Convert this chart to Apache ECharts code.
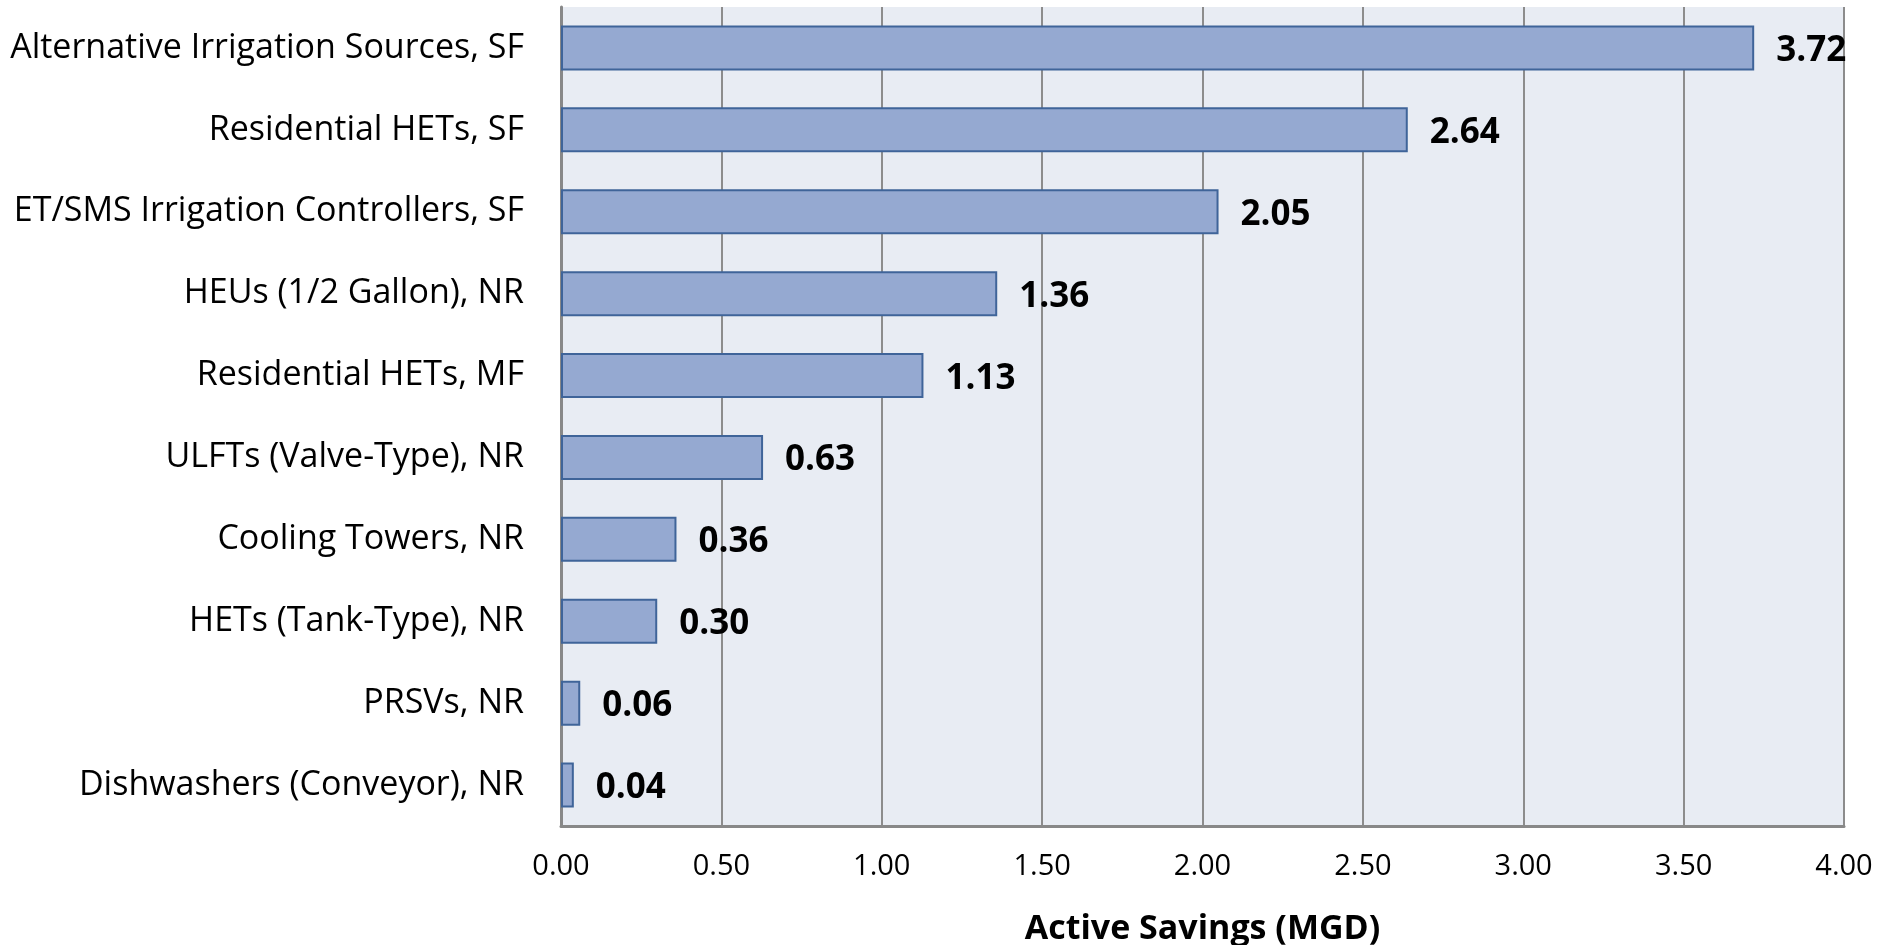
<!DOCTYPE html>
<html>
<head>
<meta charset="utf-8">
<script src="https://cdn.jsdelivr.net/npm/echarts@6/dist/echarts.min.js"></script>
<style>
  html, body { margin: 0; padding: 0; background: #fff; }
  #chart { width: 1881px; height: 945px; }
</style>
</head>
<body>
<div id="chart"></div>
<script>
// categories from top to bottom
const categories = [
  'Alternative Irrigation Sources, SF',
  'Residential HETs, SF',
  'ET/SMS Irrigation Controllers, SF',
  'HEUs (1/2 Gallon), NR',
  'Residential HETs, MF',
  'ULFTs (Valve-Type), NR',
  'Cooling Towers, NR',
  'HETs (Tank-Type), NR',
  'PRSVs, NR',
  'Dishwashers (Conveyor), NR'
];
const savings = [3.72, 2.64, 2.05, 1.36, 1.13, 0.63, 0.36, 0.30, 0.06, 0.04];

const xMin = 0;
const xMax = 4;
const xStep = 0.5;

const font = '"Open Sans", "Liberation Sans", sans-serif';

const chart = echarts.init(document.getElementById('chart'));

chart.setOption({
  animation: false,
  grid: {
    left: 561,
    right: 37,
    top: 7,
    bottom: 119,
    outerBoundsMode: 'none',
    containLabel: false,
    show: true,
    backgroundColor: '#e8ecf3',
    borderWidth: 0
  },
  xAxis: {
    type: 'value',
    min: xMin,
    max: xMax,
    interval: xStep,
    name: 'Active Savings (MGD)',
    nameLocation: 'middle',
    nameGap: 86,
    nameTextStyle: { fontFamily: font, fontSize: 34, fontWeight: 'bold', color: '#000' },
    axisLine: { show: true, lineStyle: { color: '#888', width: 3 } },
    axisTick: { show: false },
    axisLabel: {
      fontFamily: font,
      fontSize: 29,
      color: '#000',
      margin: 26,
      formatter: v => v.toFixed(2)
    },
    splitLine: { show: true, lineStyle: { color: '#8c8c8c', width: 2 } }
  },
  yAxis: {
    type: 'category',
    data: categories,
    inverse: true,
    axisLine: { show: true, lineStyle: { color: '#888', width: 3 } },
    axisTick: { show: false },
    axisLabel: {
      fontFamily: font,
      fontSize: 34,
      color: '#000',
      margin: 37
    },
    splitLine: { show: false }
  },
  series: [{
    type: 'bar',
    data: savings,
    barWidth: '55%',
    itemStyle: {
      color: '#95a9d1',
      borderColor: '#3f6499',
      borderWidth: 2
    },
    label: {
      show: true,
      position: 'right',
      distance: 22,
      offset: [0, 3],
      fontFamily: font,
      fontSize: 35,
      fontWeight: 'bold',
      color: '#000',
      formatter: p => p.value.toFixed(2)
    }
  }]
});
</script>
</body>
</html>
